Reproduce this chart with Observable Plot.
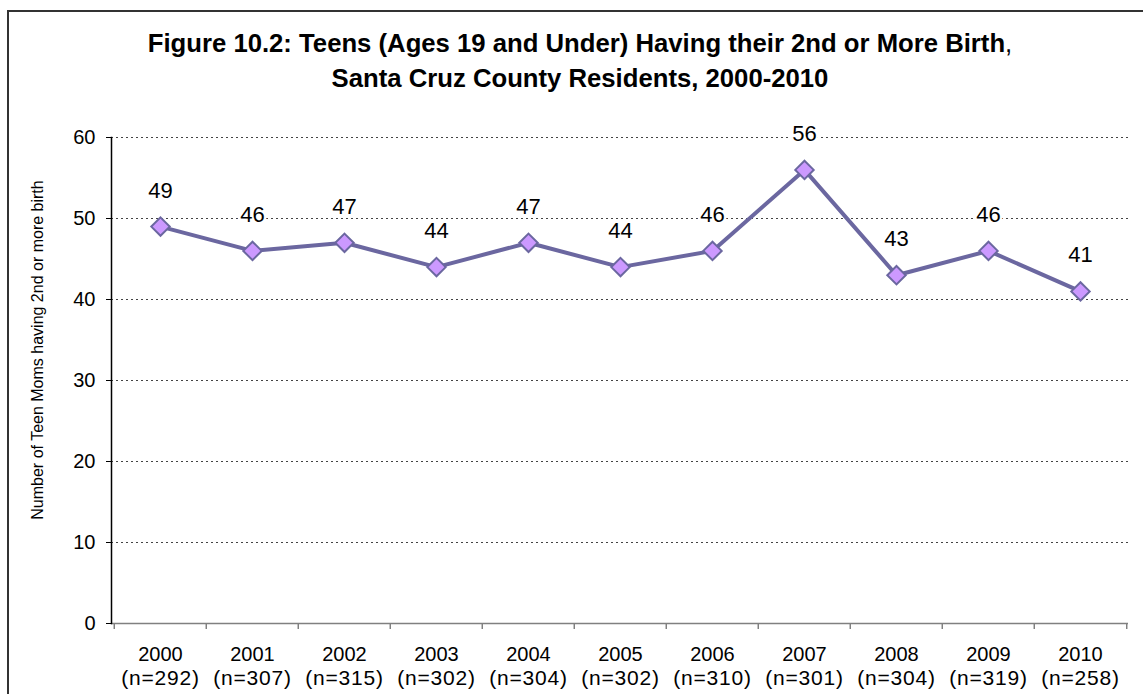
<!DOCTYPE html>
<html><head><meta charset="utf-8">
<script src="https://cdn.jsdelivr.net/npm/d3@7"></script>
<script src="https://cdn.jsdelivr.net/npm/@observablehq/plot@0.6"></script>
<style>
body{margin:0;background:#fff;overflow:hidden;font-family:"Liberation Sans",Arial,sans-serif;}
#wrap{position:relative;width:1143px;height:694px;overflow:hidden;}
#frame{position:absolute;left:7px;top:10px;width:1200px;height:800px;border:2px solid #333;box-sizing:border-box;}
#title{position:absolute;left:0;width:1160px;top:26px;text-align:center;font-size:25.7px;font-weight:bold;line-height:35px;color:#000;white-space:nowrap;}
#title .n{font-weight:normal;}
#ylabel{position:absolute;left:38px;top:350px;transform:translate(-50%,-50%) rotate(-90deg);font-size:16px;white-space:nowrap;color:#000;}
#chart{position:absolute;left:0;top:0;}
</style></head>
<body>
<div id="wrap">
  <div id="frame"></div>
  <div id="chart"></div>
  <div id="title">Figure 10.2: Teens (Ages 19 and Under) Having their 2nd or More Birth<span class="n">,</span><br>Santa Cruz County Residents, 2000-2010</div>
  <div id="ylabel"></div>
</div>
<script>
const years = ["2000","2001","2002","2003","2004","2005","2006","2007","2008","2009","2010"];
const counts = [49,46,47,44,47,44,46,56,43,46,41];
const nTotals = [292,307,315,302,304,302,310,301,304,319,258];
const yTicks = [0,10,20,30,40,50,60];
const yLabel = "Number of Teen Moms having 2nd or more birth";

document.getElementById("ylabel").textContent = yLabel;

const data = years.map((y,i)=>({year:y, count:counts[i], n:nTotals[i]}));

const W=1143, H=694, mL=111, mR=15, mT=137, mB=71;
const bw = (W-mL-mR)/years.length;
const lineColor = "#6b67a0";
const font = "Liberation Sans, Arial, sans-serif";

const chart = Plot.plot({
  width: W, height: H,
  marginLeft: mL, marginRight: mR, marginTop: mT, marginBottom: mB,
  style: {fontFamily: font, background: "transparent", color: "#000", overflow: "visible"},
  x: {type: "band", domain: years, padding: 0, label: null},
  y: {domain: [0, 60], label: null},
  marks: [
    Plot.gridY(yTicks.filter(d => d > 0), {stroke: "#444", strokeOpacity: 1, strokeDasharray: "2,3", strokeWidth: 1}),
    Plot.ruleY([0], {stroke: "#808080", strokeWidth: 1.5}),
    Plot.axisX({tickSize: 0, tickPadding: 23, fontSize: 20, label: null}),
    Plot.axisX({tickSize: 0, tickPadding: 47, fontSize: 21, label: null,
      tickFormat: (d) => `(n=${nTotals[years.indexOf(d)]})`}),
    Plot.axisX({ticks: years, tickSize: 6, fill: "none", stroke: "#808080", strokeWidth: 1.5, dx: -bw/2, label: null}),
    Plot.axisX({ticks: [years[years.length-1]], tickSize: 6, fill: "none", stroke: "#808080", strokeWidth: 1.5, dx: bw/2, label: null}),
    Plot.axisY({ticks: yTicks, tickSize: 5, tickPadding: 11, fontSize: 20, label: null, stroke: "#000"}),
    Plot.frame({anchor: "left", stroke: "#000", strokeWidth: 1.5}),
    Plot.line(data, {x: "year", y: "count", stroke: lineColor, strokeWidth: 4}),
    Plot.dot(data, {x: "year", y: "count", symbol: "diamond2", r: 8.3, fill: "#cc99ff", stroke: lineColor, strokeWidth: 2}),
    Plot.text(data, {x: "year", y: "count", text: d => String(d.count), dy: -36, fontSize: 22, fill: "#000", stroke: "white", strokeWidth: 5})
  ]
});
d3.select(chart).selectAll('g[font-size="21"]').attr("letter-spacing", "0.8");
document.getElementById("chart").appendChild(chart);
</script>
</body></html>
